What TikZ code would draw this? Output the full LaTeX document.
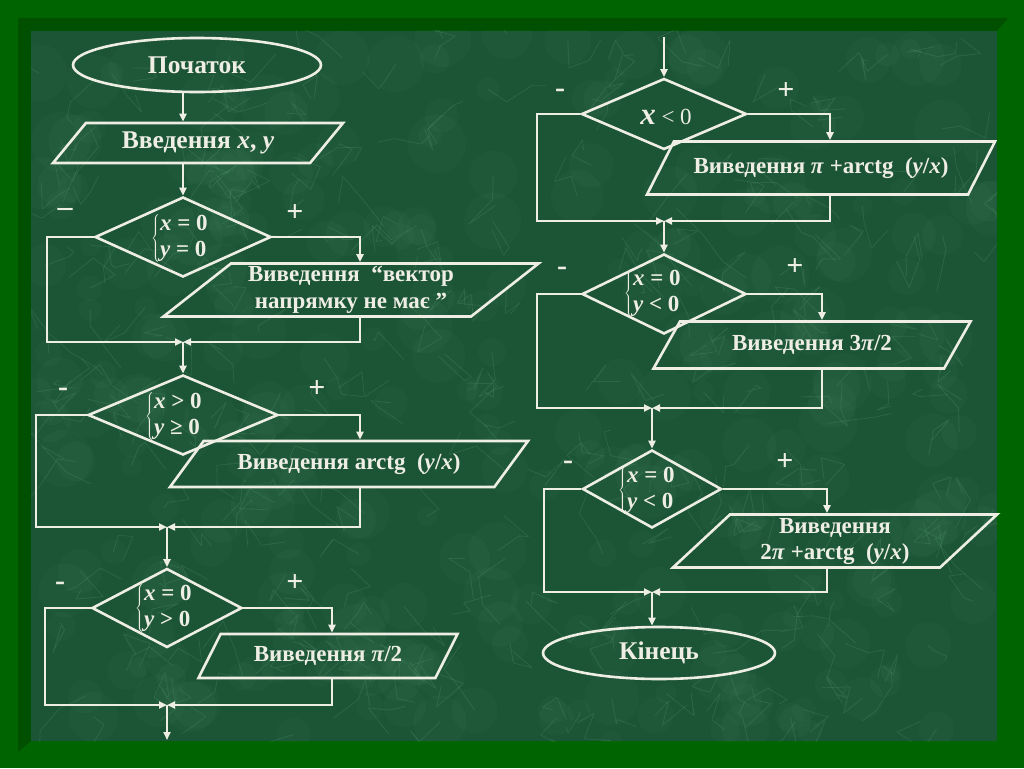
\documentclass[tikz,border=0pt]{standalone}
\usepackage{fontspec}
\setmainfont{Liberation Serif}
\usetikzlibrary{shapes.geometric,arrows.meta}
\definecolor{frame}{RGB}{0,100,0}
\definecolor{frameshade}{RGB}{0,80,0}
\definecolor{marble}{RGB}{28,84,54}
\definecolor{vein}{RGB}{100,170,125}
\definecolor{chalk}{RGB}{238,238,228}

\begin{document}
\begin{tikzpicture}
  [x=1pt,y=-1pt,line width=2.6pt,
   every node/.style={text=chalk,font=\fontsize{23}{27}\selectfont\bfseries},
   flow/.style={draw=chalk,-{Triangle[length=8pt,width=7pt]}},
   term/.style={ellipse,draw=chalk,inner sep=0pt,font=\fontsize{25.5}{28}\selectfont\bfseries},
   test/.style={diamond,draw=chalk,inner sep=0pt},
   inout/.style={trapezium,trapezium stretches body,draw=chalk,inner sep=0pt,
     trapezium left angle=#1,trapezium right angle=180-#1},
   cond/.style={font=\fontsize{23}{26}\selectfont\bfseries},
   sign/.style={font=\fontsize{30}{30}\selectfont\bfseries},
   streak/.style={draw=vein,line width=0.8pt,opacity=0.2,line join=round}]

  \useasboundingbox (0,0) rectangle (1024,768);
  \fill[frame] (0,0) rectangle (1024,768);
  \fill[frameshade] (18,18) -- (1008,18) -- (997,31) -- (31,31) -- (31,741) -- (18,752) -- cycle;
  \fill[marble] (31,31) rectangle (997,741);
  \begin{scope}
    \clip (31,31) rectangle (997,741);
    \pgfmathsetseed{12}
    \foreach \i in {1,...,320} {
      \pgfmathsetmacro\vx{31+966*rnd}
      \pgfmathsetmacro\vy{31+710*rnd}
      \draw[streak] (\vx,\vy) -- ++(28*rand,28*rand) -- ++(28*rand,28*rand) -- ++(28*rand,28*rand);
      \fill[vein,opacity=0.05] (\vx,\vy) circle ({10+20*rnd});
    }
  \end{scope}

  % left column
  \node (e1)[term,minimum width=248pt,minimum height=54pt] at (197,65) {Початок};
  \node (p1)[inout=34,minimum width=290pt,minimum height=40pt,font=\fontsize{25.5}{28}\selectfont\bfseries] at (198,143) {Введення \textit{x}, \textit{y}};

  \node (d1)[test,minimum width=176pt,minimum height=80pt] at (183,237) {};
  \node (t1)[cond] at (180,238) {$\left\{\begin{tabular}{@{}l@{}}\textit{x} = 0\\\textit{y} = 0\end{tabular}\right.$};
  \node (d1m)[sign] at (65,212) {–};
  \node (d1p)[sign] at (295,213) {+};
  \node (p2)[inout=35,minimum width=375pt,minimum height=53pt,align=center] at (351,290) {Виведення\ \ “вектор\\напрямку не має ”};
  \coordinate (k1) at (360,237);
  \coordinate (m1) at (183,342);
  \coordinate (l1) at (47,342);

  \node (d2)[test,minimum width=190pt,minimum height=80pt] at (183,415) {};
  \node (t2)[cond] at (174,416) {$\left\{\begin{tabular}{@{}l@{}}\textit{x} > 0\\\textit{y} ≥ 0\end{tabular}\right.$};
  \node (d2m)[sign] at (63,392) {-};
  \node (d2p)[sign] at (317,389) {+};
  \node (p3)[inout=32,minimum width=358pt,minimum height=46pt] at (349,464) {Виведення arctg\ \ (\textit{y}/\textit{x})};
  \coordinate (k2) at (360,415);
  \coordinate (m2) at (167,527);
  \coordinate (l2) at (36,527);

  \node (d3)[test,minimum width=150pt,minimum height=79pt] at (167,608) {};
  \node (t3)[cond] at (164,608) {$\left\{\begin{tabular}{@{}l@{}}\textit{x} = 0\\\textit{y} > 0\end{tabular}\right.$};
  \node (d3m)[sign] at (60,586) {-};
  \node (d3p)[sign] at (295,583) {+};
  \node (p4)[inout=41,minimum width=259pt,minimum height=44pt] at (328,656) {Виведення \textit{π}/2};
  \coordinate (k3) at (332,608);
  \coordinate (m3) at (167,705);
  \coordinate (l3) at (45,705);
  \coordinate (bot) at (167,740);

  % right column
  \coordinate (top) at (664,37);
  \node (d4)[test,minimum width=165pt,minimum height=71pt] at (664,114) {};
  \node (t4)[cond] at (666,117) {{\fontsize{31}{31}\selectfont\textit{x}} {\mdseries <~0}};
  \node (d4m)[sign] at (560,93) {-};
  \node (d4p)[sign] at (786,91) {+};
  \node (p5)[inout=38,minimum width=348pt,minimum height=53pt] at (821,168) {Виведення \textit{π} +arctg\ \ (\textit{y}/\textit{x})};
  \coordinate (k4) at (830,114);
  \coordinate (m4) at (664,221);
  \coordinate (l4) at (537,221);

  \node (d5)[test,minimum width=164pt,minimum height=80pt] at (664,294) {};
  \node (t5)[cond] at (653,293) {$\left\{\begin{tabular}{@{}l@{}}\textit{x} = 0\\\textit{y} < 0\end{tabular}\right.$};
  \node (d5m)[sign] at (562,271) {-};
  \node (d5p)[sign] at (795,267) {+};
  \node (p6)[inout=36,minimum width=317pt,minimum height=47pt] at (812,345) {Виведення 3\textit{π}/2};
  \coordinate (k5) at (822,294);
  \coordinate (m5) at (652,408);
  \coordinate (l5) at (537,408);

  \node (d6)[test,minimum width=139pt,minimum height=78pt] at (652,489) {};
  \node (t6)[cond] at (647,490) {$\left\{\begin{tabular}{@{}l@{}}\textit{x} = 0\\\textit{y} < 0\end{tabular}\right.$};
  \node (d6m)[sign] at (568,465) {-};
  \node (d6p)[sign] at (785,462) {+};
  \node (p7)[inout=39,minimum width=324pt,minimum height=53pt,align=center,font=\fontsize{23}{26}\selectfont\bfseries] at (835,541) {Виведення\\2\textit{π} +arctg\ \ (\textit{y}/\textit{x})};
  \coordinate (k6) at (827,489);
  \coordinate (m6) at (652,592);
  \coordinate (l6) at (544,592);
  \node (e2)[term,minimum width=232pt,minimum height=52pt] at (659,653) {Кінець};

  % connectors
  \draw[flow] (e1.south -| d1) -- (p1.north -| d1);
  \draw[flow] (p1.south -| d1) -- (d1.north);
  \foreach \d/\p/\k/\m/\l in {d1/p2/k1/m1/l1,d2/p3/k2/m2/l2,d3/p4/k3/m3/l3,
                             d4/p5/k4/m4/l4,d5/p6/k5/m5/l5,d6/p7/k6/m6/l6} {
    \draw[flow] (\d.east) -| (\p.north -| \k);
    \draw[flow] (\p.south -| \k) |- (\m);
    \draw[flow] (\d.west) -| (\l) -- (\m);
  }
  \draw[flow] (m1) -- (d2.north);
  \draw[flow] (m2) -- (d3.north);
  \draw[flow] (m3) -- (bot);
  \draw[flow] (top) -- (d4.north);
  \draw[flow] (m4) -- (d5.north);
  \draw[flow] (m5) -- (d6.north);
  \draw[flow] (m6) -- (e2.north -| m6);
\end{tikzpicture}
\end{document}
